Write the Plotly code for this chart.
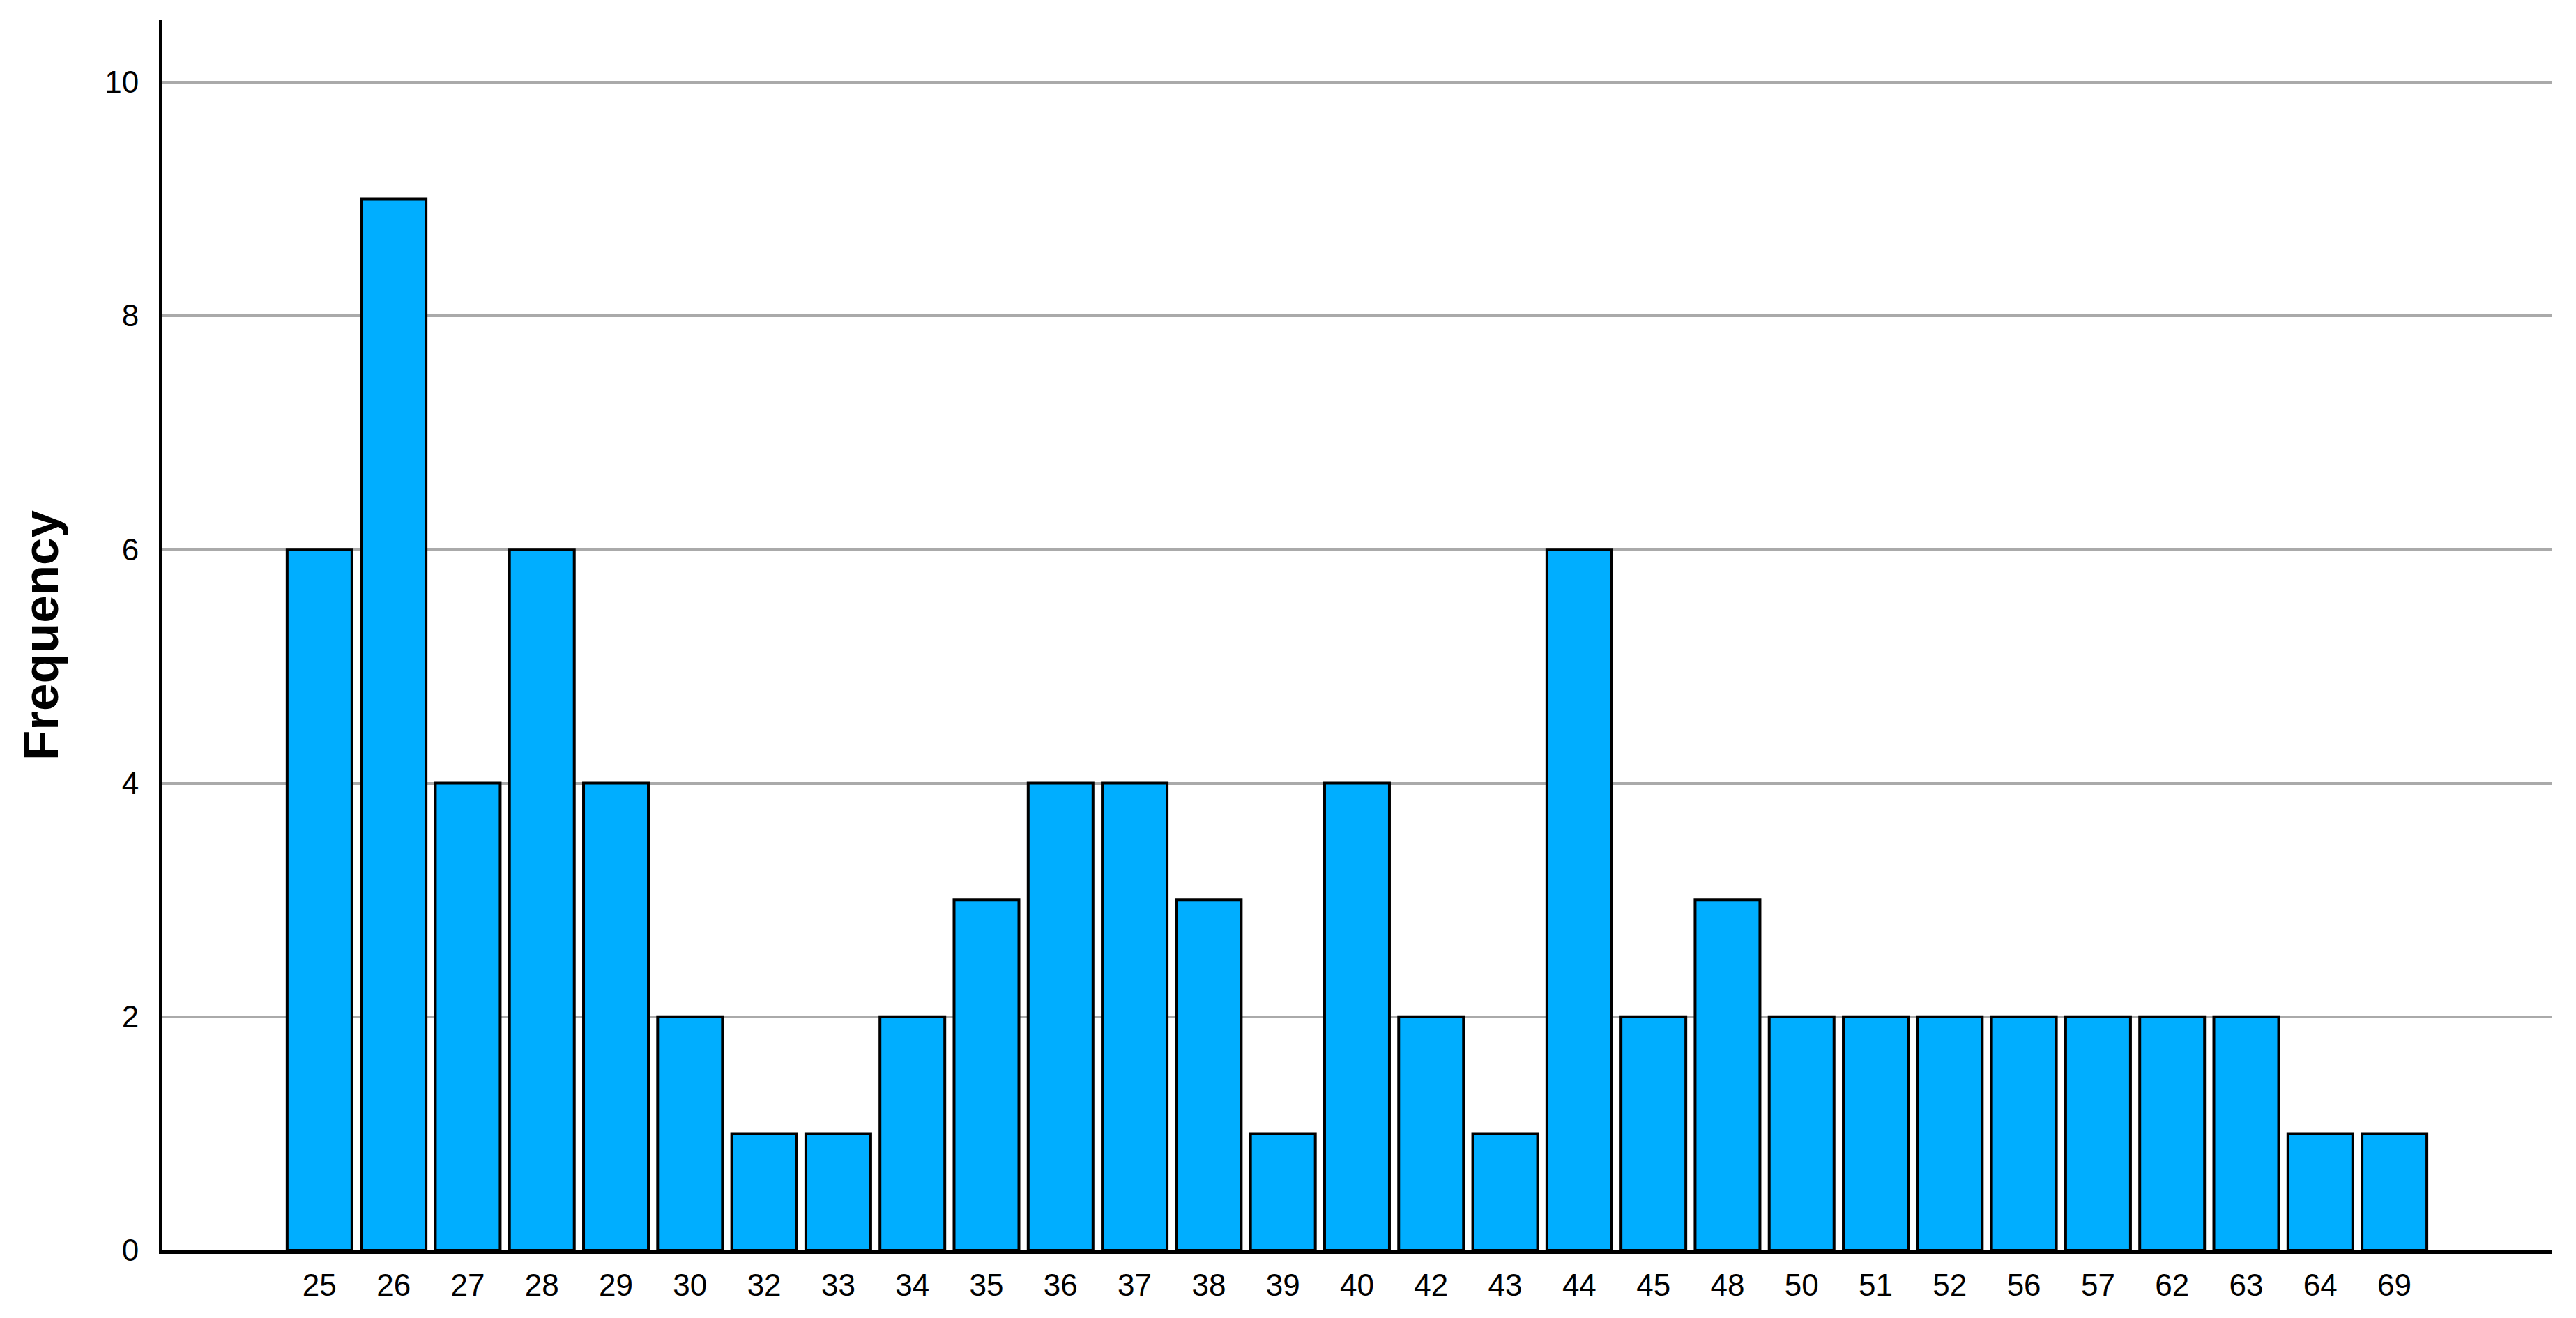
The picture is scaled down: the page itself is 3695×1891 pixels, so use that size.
import plotly.graph_objects as go

ages = ["25", "26", "27", "28", "29", "30", "32", "33", "34", "35", "36", "37", "38", "39",
        "40", "42", "43", "44", "45", "48", "50", "51", "52", "56", "57", "62", "63", "64", "69"]
frequency = [6, 9, 4, 6, 4, 2, 1, 1, 2, 3, 4, 4, 3, 1,
             4, 2, 1, 6, 2, 3, 2, 2, 2, 2, 2, 2, 2, 1, 1]
y_ticks = [0, 2, 4, 6, 8, 10]

# page body has an 8px default margin, so the figure is shrunk to fit the window
W, H = 3695 - 16, 1891 - 16
fig = go.Figure(go.Bar(
    x=ages, y=frequency,
    marker=dict(color="#00AEFF", line=dict(color="black", width=4)),
))

fig.update_layout(
    width=W, height=H,
    margin=dict(l=225, r=26, t=21, b=89, autoexpand=False),
    plot_bgcolor="white", paper_bgcolor="white",
    bargap=0.125,
    showlegend=False,
    font=dict(family="Liberation Sans, Arial, sans-serif", color="black", size=44),
)
fig.update_xaxes(
    type="category", range=[-2.12, 30.13],
    showline=True, linecolor="black", linewidth=5,
    showgrid=False, ticks="", ticklabelstandoff=7,
    tickfont=dict(size=44),
)
fig.update_yaxes(
    range=[0, 10.53], tickvals=y_ticks,
    showline=True, linecolor="black", linewidth=5,
    showgrid=True, gridcolor="#AAAAAA", gridwidth=4,
    zeroline=False, ticks="", ticklabelstandoff=20,
    tickfont=dict(size=44),
    title=dict(text="<b>Frequency</b>", font=dict(size=71), standoff=45),
)

fig.write_html("out.html")
